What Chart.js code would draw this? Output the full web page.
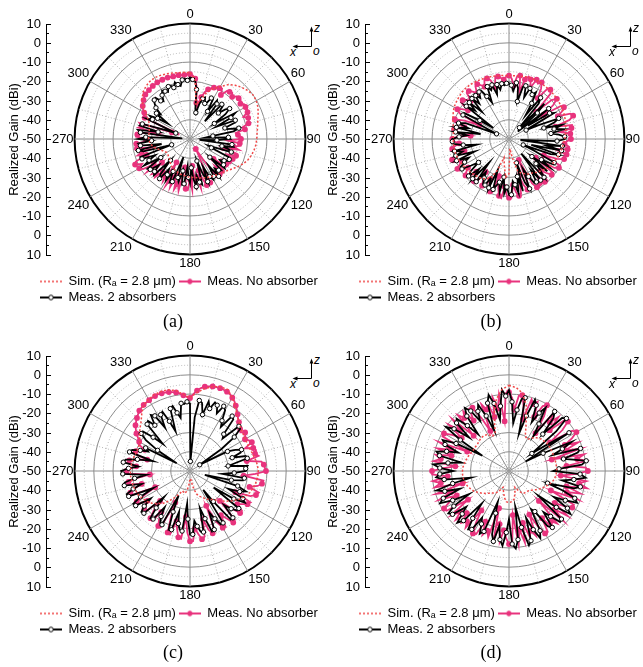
<!DOCTYPE html>
<html>
<head>
<meta charset="utf-8">
<script src="https://cdn.jsdelivr.net/npm/chart.js@4.4.1/dist/chart.umd.min.js"></script>
<style>
  html, body { margin: 0; padding: 0; background: #fff; }
  body { width: 643px; height: 667px; position: relative; overflow: hidden; }
  .panel { position: absolute; height: 316px; overflow: hidden; }
  .panel canvas { position: absolute; }
  .panel svg { position: absolute; left: 284px; top: 16px; }
  .cap { position: absolute; width: 40px; text-align: center; font: 18px "Liberation Serif", serif; color: #000; }
</style>
</head>
<body>
<div class="panel" id="pa" style="left:0px;top:0px;width:320px"></div>
<div class="panel" id="pb" style="left:319px;top:0px;width:324px"></div>
<div class="panel" id="pc" style="left:0px;top:332px;width:320px"></div>
<div class="panel" id="pd" style="left:319px;top:332px;width:324px"></div>
<div class="cap" style="left:153px;top:311px">(a)</div>
<div class="cap" style="left:471px;top:311px">(b)</div>
<div class="cap" style="left:153px;top:642px">(c)</div>
<div class="cap" style="left:471px;top:642px">(d)</div>
<script>
// measurement angles (deg), 2.5 degree step
const ANGLES = [0, 2.5, 5, 7.5, 10, 12.5, 15, 17.5, 20, 22.5, 25, 27.5,
  30, 32.5, 35, 37.5, 40, 42.5, 45, 47.5, 50, 52.5, 55, 57.5,
  60, 62.5, 65, 67.5, 70, 72.5, 75, 77.5, 80, 82.5, 85, 87.5,
  90, 92.5, 95, 97.5, 100, 102.5, 105, 107.5, 110, 112.5, 115, 117.5,
  120, 122.5, 125, 127.5, 130, 132.5, 135, 137.5, 140, 142.5, 145, 147.5,
  150, 152.5, 155, 157.5, 160, 162.5, 165, 167.5, 170, 172.5, 175, 177.5,
  180, 182.5, 185, 187.5, 190, 192.5, 195, 197.5, 200, 202.5, 205, 207.5,
  210, 212.5, 215, 217.5, 220, 222.5, 225, 227.5, 230, 232.5, 235, 237.5,
  240, 242.5, 245, 247.5, 250, 252.5, 255, 257.5, 260, 262.5, 265, 267.5,
  270, 272.5, 275, 277.5, 280, 282.5, 285, 287.5, 290, 292.5, 295, 297.5,
  300, 302.5, 305, 307.5, 310, 312.5, 315, 317.5, 320, 322.5, 325, 327.5,
  330, 332.5, 335, 337.5, 340, 342.5, 345, 347.5, 350, 352.5, 355, 357.5]
const ANGLE_TICKS = [0, 30, 60, 90, 120, 150, 180, 210, 240, 270, 300, 330]
const GAIN_LABELS = ['10', '0', '-10', '-20', '-30', '-40', '-50', '-40', '-30', '-20', '-10', '0', '10']
const SERIES = ['Sim. (R\u2090 = 2.8 \u03bcm)', 'Meas. No absorber', 'Meas. 2 absorbers']

// simulation is sampled every 5 degrees (every other angle above)
// (a)
const SIM_A = [-15.5, -19, -32, -29, -24, -21, -18.5, -15.5, -13.5, -12, -10.8, -10,
  -10.2, -11, -12.3, -13.5, -14.3, -15, -15.3, -15.6, -16.2, -17, -18, -19.5,
  -21.3, -23, -24.5, -25.5, -26.3, -27, -27.5, -28, -28.5, -29, -29.5, -30,
  -30, -30.5, -31, -31, -31.5, -32, -32.5, -33, -34, -35, -35.5, -36,
  -36, -35, -33.5, -31.5, -30, -29, -28.5, -28.5, -28.5, -28, -27.5, -26,
  -23.5, -20, -17.5, -15.5, -14.3, -13.5, -13.2, -13.5, -14, -14.5, -15, -15.2]
const NOABS_A = [-16.3, -17, -18.5, -23, -31, -33, -27.5, -24.5, -22.5, -21.5, -20.5, -20,
  -19.5, -19, -22, -18.5, -18, -17.5, -19, -17.2, -17, -16.8, -18, -16.5,
  -16.7, -16.5, -17, -20, -17.8, -18, -18.5, -22, -21, -26, -25, -23.5,
  -23.5, -30, -24, -23.5, -27, -24, -32, -25, -24.5, -29, -25.5, -27,
  -26.5, -30, -27, -26.5, -34, -27, -26.5, -31, -26, -29, -27, -38,
  -44, -40, -25, -31, -24.5, -28, -33, -24, -30, -23.5, -36, -23.5,
  -29, -23.5, -24, -33, -35, -22.5, -26, -22.5, -30, -23, -28, -23,
  -36, -24, -27, -24, -28, -23, -25, -23, -31, -22, -27, -21,
  -19.5, -22, -18.5, -19.5, -26, -21.5, -24, -30, -22, -25, -22, -28,
  -27, -22, -22.5, -26, -33, -22.5, -24, -22.5, -40, -44, -24, -23,
  -22.5, -21, -20, -19, -18.5, -17.8, -17.2, -17, -16.8, -16.5, -16.3, -16.2,
  -16, -15.8, -16, -15.8, -16, -16.2, -16.3, -16.5, -16.3, -16.5, -16.5, -16.3]
const ABS2_A = [-18, -19, -19.5, -24, -34, -36, -31, -28, -27, -30, -29, -26,
  -26, -33, -25.5, -27, -38, -25.5, -26, -30, -26, -24, -27.5, -35,
  -23, -26, -35, -24.5, -25, -31, -30, -24, -27, -38, -42, -30,
  -29, -36, -45, -28, -27, -33, -29, -27.5, -40, -38, -28, -27,
  -27, -29, -31, -28, -26.5, -36, -27, -28, -30, -25.5, -33, -27,
  -25.5, -28, -34, -26, -31, -38, -25.5, -27, -31, -25, -29, -35,
  -27, -30, -36, -26.5, -26, -33, -27, -29, -40, -26, -25, -31,
  -25, -28, -31, -24, -26, -35, -23.5, -25, -29, -24, -23, -32,
  -22.5, -26, -30, -23, -22.5, -40, -25, -22.5, -35, -24, -23, -30,
  -23, -27, -46, -24, -22.5, -33, -23, -24, -36, -42, -25, -28,
  -26, -30, -36, -28, -30, -26, -24, -22.5, -22, -25, -26, -23,
  -21, -22, -23, -20.5, -20.5, -22, -19.5, -21, -22, -19, -18.5, -19.5]

// (b)
const SIM_B = [-17, -17, -16.8, -16.5, -16.3, -16.3, -16.5, -16.8, -17, -17.2, -17.5, -17.8,
  -18, -18.5, -19, -19.5, -20, -20.5, -21, -21.5, -22, -22.5, -23, -23.5,
  -24, -24.5, -25.5, -26.5, -27.5, -28.5, -29, -30, -31, -33, -40, -45,
  -32, -30, -36, -40, -33, -28, -26, -25, -24.5, -24, -23.5, -23,
  -22.5, -22, -21.5, -21.2, -21, -21, -21, -21, -20.5, -20, -19, -18,
  -17, -16.5, -16, -15.5, -15.3, -15.3, -15.5, -15.8, -16, -16.3, -16.6, -16.8]
const NOABS_B = [-17, -18.5, -22, -17, -16.5, -25, -18, -16, -17, -21, -16, -17.5,
  -16, -19, -24, -17, -16.5, -18, -30, -20, -17.5, -21, -28, -18,
  -17, -19, -22, -15.5, -14.5, -17, -25, -16.5, -17, -23, -18, -17.8,
  -17.8, -20, -21, -18.5, -19, -26, -19, -20, -19.5, -23, -30, -20,
  -20, -22, -33, -21, -21, -24, -27, -20.5, -21, -26, -22, -20.5,
  -21, -24, -38, -23, -22, -25, -30, -21, -20, -22, -26, -19.5,
  -19.5, -21, -25, -19, -20, -24, -30, -21, -21, -23, -27, -22,
  -22, -25, -29, -21, -21.5, -23, -26, -20.5, -20.5, -22, -24, -19.5,
  -19, -21, -23, -18.5, -18.5, -22, -26, -20, -20, -21.5, -24, -21,
  -20.5, -23, -30, -21, -21, -24, -26, -20.5, -20, -25, -33, -21,
  -19, -21, -24, -18.5, -18.5, -20, -22, -17.5, -17.5, -19, -21, -17.5,
  -17, -18.5, -20, -16.5, -16.5, -18, -22, -17, -17, -18, -19, -17.5]
const ABS2_B = [-21, -22, -25, -20.5, -23, -30, -22, -21, -27, -21.5, -22.5, -24,
  -22, -28, -35, -23, -26, -42, -24, -30, -44, -24, -38, -25,
  -23, -40, -33, -22, -25, -31, -21.5, -26, -21, -28, -24, -21,
  -21, -25, -44, -22, -30, -22, -38, -23, -27, -42, -35, -23.5,
  -23.5, -30, -24, -35, -24, -31, -27, -23, -40, -23, -30, -23.5,
  -23.5, -28, -33, -22, -26, -37, -22, -30, -21.5, -26, -28, -21,
  -21, -25, -21.5, -30, -22, -27, -25, -22.5, -33, -22.5, -28, -23,
  -23, -26, -29, -22, -34, -22, -28, -21.5, -24, -30, -26, -21,
  -21, -24, -27, -20.5, -31, -21, -25, -21, -33, -26, -21, -20.5,
  -20.5, -24, -28, -22, -35, -22, -28, -22.5, -26, -43, -38, -23,
  -23, -32, -40, -22, -27, -22, -30, -21.5, -26, -21.5, -24, -21,
  -21, -25, -29, -20.5, -23, -20.5, -26, -21, -24, -21, -22, -21]

// (c)
const SIM_C = [-12, -9, -6.5, -4.5, -3.5, -3.3, -6, -9, -12, -14, -15.5, -16.3,
  -16.8, -17, -16.8, -16.2, -15.5, -14.8, -14.5, -14.6, -15.2, -16, -17, -18.5,
  -20.5, -23, -25.5, -28, -30.5, -32, -33, -35, -36, -38, -42, -46,
  -46, -42, -39, -38, -39, -37, -34, -31, -28, -26, -24, -22.5,
  -21.5, -20.5, -20, -19.5, -19.2, -19, -19, -19.2, -19.5, -20, -20.5, -20.5,
  -20, -18, -16, -14, -11, -8, -7, -6.2, -6, -6.3, -7.5, -10]
const NOABS_C = [-12, -10, -8, -6.5, -5.5, -5, -4.5, -4.3, -4.2, -4.3, -4.5, -5,
  -6, -7, -8.5, -10, -11.5, -13, -14, -15, -16, -17, -15, -16,
  -17, -15.5, -14.5, -19, -15, -14, -15, -13.5, -20, -12.5, -11.5, -11,
  -10.5, -16, -22, -11.5, -12, -14, -18, -12.5, -13.5, -16, -24, -14.5,
  -15.5, -18, -20, -16, -16, -22, -28, -15.5, -15, -19, -22, -15.5,
  -16, -20, -30, -16.5, -15.5, -18, -24, -15, -14, -17, -20, -13.5,
  -13.5, -18, -26, -14.5, -15, -19, -23, -15.5, -16, -24, -32, -17,
  -17, -20, -24, -17.5, -18, -22, -28, -18.5, -19, -21, -23, -18.5,
  -18, -24, -30, -17.5, -17, -20, -24, -17, -17.5, -22, -29, -17.5,
  -17, -19, -22, -17.5, -18, -23, -27, -19, -20, -22, -24, -20,
  -19.5, -18, -16, -14.5, -13, -12, -11, -10, -9, -8.5, -8, -7.8,
  -7.5, -7.2, -7, -6.8, -7, -7.2, -7.5, -8, -8.5, -9.5, -10.5, -11.5]
const ABS2_C = [-15, -45, -22, -13, -14, -20, -12.5, -16, -12, -13, -17, -12,
  -13.5, -19, -22, -14, -15, -24, -26, -15.5, -16, -21, -30, -44,
  -40, -28, -24, -21, -22, -27, -20, -19.5, -26, -30, -20, -21,
  -21, -27, -33, -21.5, -22, -28, -42, -24, -19, -22, -28, -19,
  -17, -23, -35, -18, -18, -21, -25, -17, -17, -30, -38, -18,
  -18, -22, -26, -17, -16.5, -24, -30, -17.5, -18, -21, -24, -17,
  -17, -25, -33, -18.5, -19, -22, -28, -18, -17.5, -27, -36, -18.5,
  -19, -22, -27, -18.5, -18, -24, -31, -17.5, -17, -20, -25, -16.5,
  -16, -21, -29, -15.5, -15, -19, -24, -15, -15.5, -21, -27, -15,
  -14.2, -18, -23, -15, -16, -22, -30, -17, -18, -22, -26, -24,
  -42, -30, -22, -18, -18, -24, -30, -17, -16, -20, -14.5, -16,
  -24, -17, -16, -22, -28, -16, -15, -19, -22, -14.5, -15, -14]

// (d)
const SIM_D = [-5.5, -6.5, -9, -15, -24, -30, -31, -29, -27.5, -26.5, -26, -25.5,
  -25.5, -25.5, -25.5, -25.5, -25.3, -25.2, -25.2, -25.5, -26, -27, -28.5, -30,
  -31.5, -33, -34.5, -35.5, -36, -36, -37, -39, -41, -38, -35, -34,
  -33.5, -34, -36, -39, -41, -39, -37, -36, -35, -33.5, -32, -30.5,
  -29, -28, -27, -26.5, -26, -25.8, -25.8, -26, -26.5, -27, -27.5, -28,
  -28.5, -28.5, -28.5, -28, -27.5, -27.5, -28, -30, -29, -20, -12, -7.5]
const NOABS_D = [-9, -12, -18, -10.5, -10, -15, -22, -11, -13, -11, -19, -12,
  -10.5, -16, -26, -12, -17, -12, -20, -11, -10, -15, -24, -11,
  -9.5, -13, -18, -11, -19, -11, -27, -10, -14, -9.5, -20, -10,
  -9, -15, -23, -9.5, -13, -8.5, -19, -11, -18, -11, -26, -12,
  -12, -16, -21, -11.5, -19, -11.5, -28, -13, -16, -13, -20, -12.5,
  -12.5, -18, -25, -13.5, -17, -14, -22, -12, -19, -11.5, -27, -12,
  -12, -15, -19, -13, -22, -13, -30, -14, -17, -14, -21, -13,
  -12.5, -18, -25, -13, -16, -13.5, -19, -12.5, -17, -12, -24, -11.5,
  -11, -15, -20, -10.5, -18, -10.5, -25, -10.5, -14, -10, -18, -10,
  -10, -16, -22, -10.5, -14, -11, -19, -11, -18, -10.5, -26, -11,
  -11, -15, -20, -10.5, -17, -10, -24, -10.5, -14, -11, -18, -11.5,
  -12, -19, -27, -12.5, -16, -13, -21, -11, -17, -10, -24, -9.5]
const ABS2_D = [-8, -14, -25, -18, -12, -11, -30, -20, -10.5, -13, -22, -16,
  -12, -21, -28, -11, -14, -24, -11, -9.5, -18, -35, -27, -13,
  -40, -30, -14, -20, -26, -11, -13, -21, -16, -9.5, -12, -24,
  -27, -13, -10, -16, -22, -12, -15, -29, -20, -13, -11, -17,
  -23, -14, -11, -19, -30, -13, -12.5, -18, -22, -13, -15, -25,
  -27, -15, -11.5, -17, -24, -12, -10, -20, -31, -14, -9.5, -12,
  -25, -18, -11, -14, -21, -12.5, -16, -27, -33, -16, -14, -19,
  -22, -14, -13, -19, -28, -15, -12, -17, -21, -13, -11.5, -16,
  -26, -17, -10.5, -13, -23, -15, -11, -20, -30, -16, -12, -14,
  -21, -14, -10.5, -18, -25, -13, -11, -16, -22, -14, -12, -19,
  -34, -20, -10, -14, -23, -13, -11.5, -18, -25, -14, -10, -13,
  -20, -15, -12, -19, -28, -13, -9, -14, -23, -16, -7.5, -11]

const PINK = '#e8337d'
const SIM_RED = '#f04848'
const MAJOR = '#8c8c8c'
const MINOR = '#b4b4b4'

Chart.defaults.font.family = '"Liberation Sans", Arial, sans-serif'
Chart.defaults.font.size = 13
Chart.defaults.color = '#000'

function legendIcon (kind) {
  const c = document.createElement('canvas')
  c.width = 22
  c.height = 8
  const g = c.getContext('2d')
  g.beginPath()
  g.moveTo(0, 4)
  g.lineTo(22, 4)
  if (kind === 0) {
    g.strokeStyle = SIM_RED
    g.lineWidth = 1.5
    g.setLineDash([2, 2])
    g.stroke()
    return c
  }
  const col = kind === 1 ? PINK : '#000'
  g.strokeStyle = col
  g.lineWidth = 2
  g.stroke()
  g.beginPath()
  g.arc(11, 4, 2.3, 0, Math.PI * 2)
  g.fillStyle = kind === 1 ? PINK : '#fff'
  g.fill()
  g.lineWidth = 1
  g.stroke()
  return c
}
const ICONS = [legendIcon(0), legendIcon(1), legendIcon(2)]

function makePanel (el, sim, noAbs, abs2) {
  el.insertAdjacentHTML('beforeend',
    '<svg width="40" height="44" viewBox="0 0 40 44">' +
    '<line x1="27.5" y1="30.5" x2="27.5" y2="14" stroke="#000" stroke-width="1"/>' +
    '<path d="M25.6 15.5 L27.5 10.5 L29.4 15.5 Z" fill="#000"/>' +
    '<line x1="27.5" y1="30.5" x2="12" y2="30.5" stroke="#000" stroke-width="1"/>' +
    '<path d="M13.5 28.6 L8.5 30.5 L13.5 32.4 Z" fill="#000"/>' +
    '<text x="30" y="16" font-family="Liberation Sans" font-style="italic" font-size="12">z</text>' +
    '<text x="6" y="40" font-family="Liberation Sans" font-style="italic" font-size="12">x</text>' +
    '<text x="29" y="38.5" font-family="Liberation Sans" font-style="italic" font-size="12">o</text>' +
    '</svg>')

  const rc = document.createElement('canvas')
  rc.width = 307
  rc.height = 314
  rc.style.left = '37px'
  rc.style.top = '0px'
  el.appendChild(rc)

  const radar = new Chart(rc, {
    type: 'radar',
    data: {
      labels: ANGLES,
      datasets: [{
        label: SERIES[0],
        data: ANGLES.map((a, i) => (i % 2 === 0 ? sim[i / 2] : null)),
        spanGaps: true,
        borderColor: SIM_RED,
        borderDash: [2, 2],
        borderWidth: 1.5,
        pointRadius: 0,
        fill: false,
        order: 0
      }, {
        label: SERIES[1],
        data: noAbs,
        borderColor: PINK,
        backgroundColor: PINK,
        pointBackgroundColor: PINK,
        pointBorderColor: PINK,
        pointRadius: (c) => (c.dataIndex % 2 === 0 ? 2 : 0),
        borderWidth: 1.8,
        fill: false,
        order: 2
      }, {
        label: SERIES[2],
        data: abs2,
        borderColor: '#000',
        backgroundColor: '#fff',
        pointBackgroundColor: '#fff',
        pointBorderColor: '#000',
        pointBorderWidth: 1,
        pointRadius: (c) => (c.dataIndex % 2 === 1 ? 2.2 : 0),
        borderWidth: 1.8,
        fill: false,
        order: 1
      }]
    },
    options: {
      responsive: false,
      animation: false,
      events: [],
      layout: { padding: { top: 8, left: 0, right: 0, bottom: 0 } },
      elements: { line: { tension: 0 } },
      scales: {
        r: {
          min: -50,
          max: 10,
          ticks: { display: false, stepSize: 5 },
          grid: {
            circular: true,
            color: (c) => (c.tick.value === 10 ? '#000' : (c.tick.value % 10 === 0 ? MAJOR : MINOR)),
            lineWidth: (c) => (c.tick.value === 10 ? 2 : 1)
          },
          border: { dash: (c) => (c.tick && c.tick.value % 10 !== 0 ? [1, 2] : []) },
          angleLines: {
            color: (c) => (ANGLES[c.index] % 30 === 0 ? MAJOR : MINOR),
            lineWidth: (c) => (ANGLES[c.index] % 15 === 0 ? 1 : 0),
            borderDash: (c) => (ANGLES[c.index] % 30 === 0 ? [] : [1, 2])
          },
          pointLabels: {
            padding: 1,
            color: '#000',
            font: { size: 13 },
            callback: (label) => (ANGLE_TICKS.includes(label) ? String(label) : '')
          }
        }
      },
      plugins: {
        tooltip: { enabled: false },
        legend: {
          position: 'bottom',
          align: 'start',
          labels: {
            usePointStyle: true,
            pointStyleWidth: 22,
            padding: 3,
            color: '#000',
            font: { size: 13 },
            sort: (a, b) => a.datasetIndex - b.datasetIndex,
            generateLabels: (chart) => {
              const items = Chart.defaults.plugins.legend.labels.generateLabels(chart)
              items.forEach((it) => { it.pointStyle = ICONS[it.datasetIndex] })
              return items
            }
          }
        }
      }
    }
  })

  // left gain axis, same height as the polar circle
  const r = radar.scales.r
  const R = r.drawingArea
  const ac = document.createElement('canvas')
  ac.width = 60
  ac.height = Math.round(2 * R + 36)
  ac.style.left = '0px'
  ac.style.top = Math.round(r.yCenter - R - 18) + 'px'
  el.appendChild(ac)

  new Chart(ac, {
    type: 'scatter',
    data: { datasets: [] },
    options: {
      responsive: false,
      animation: false,
      events: [],
      layout: { padding: { top: 18, bottom: 18, left: 0, right: 0 } },
      plugins: { legend: { display: false }, tooltip: { enabled: false } },
      scales: {
        x: { display: false },
        y: {
          min: -60,
          max: 60,
          afterFit: (scale) => { scale.width = 46 },
          border: { color: '#000', width: 1 },
          grid: {
            drawOnChartArea: false,
            tickLength: -5,
            tickColor: '#000',
            tickWidth: 1,
            tickBorderDash: (c) => (c.tick && c.tick.value % 10 !== 0 ? [0, 2, 3, 10] : [])
          },
          ticks: {
            stepSize: 5,
            autoSkip: false,
            padding: 10,
            color: '#000',
            font: { size: 13 },
            callback: (v) => (v % 10 === 0 ? GAIN_LABELS[(60 - v) / 10] : '')
          },
          title: {
            display: true,
            text: 'Realized Gain (dBi)',
            color: '#000',
            font: { size: 13 },
            padding: { top: 7, bottom: 0 }
          }
        }
      }
    }
  })
}

makePanel(document.getElementById('pa'), SIM_A, NOABS_A, ABS2_A)
makePanel(document.getElementById('pb'), SIM_B, NOABS_B, ABS2_B)
makePanel(document.getElementById('pc'), SIM_C, NOABS_C, ABS2_C)
makePanel(document.getElementById('pd'), SIM_D, NOABS_D, ABS2_D)
</script>
</body>
</html>
